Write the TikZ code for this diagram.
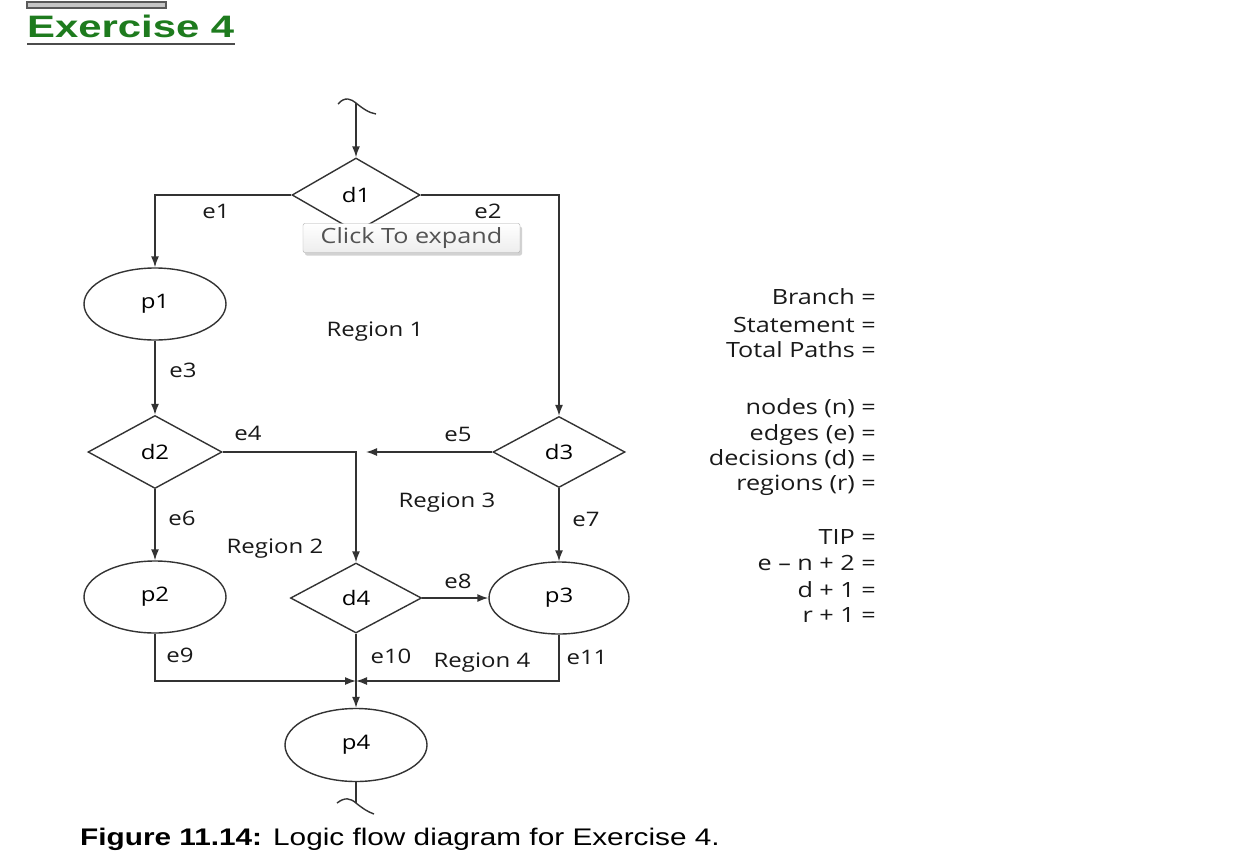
\documentclass[tikz,border=0pt]{standalone}
\usepackage{fontspec}
\usetikzlibrary{shapes.geometric,arrows.meta,shadows}
\setmainfont{Liberation Sans}
\newfontfamily\labfont[FakeStretch=1.2]{Open Sans}
\newfontfamily\titlefont[FakeStretch=1.35]{Liberation Sans}
\newfontfamily\capfont[FakeStretch=1.24]{Liberation Sans}
\newcommand\lab{\labfont\fontsize{20}{24}\selectfont}
\newcommand\sidef{\labfont\fontsize{21}{25}\selectfont}
\newcommand\tipf{\labfont\fontsize{21}{25}\selectfont}
\definecolor{ln}{HTML}{333333}
\definecolor{ttl}{HTML}{1E7B1E}
\begin{document}
\begin{tikzpicture}[x=1pt,y=-1pt,
  line/.style={draw=ln, line width=1.4pt},
  arr/.style={line, -{Latex[length=11pt,width=8pt]}},
  dec/.style={diamond, draw=ln, line width=1.4pt, inner sep=0pt, font=\lab},
  proc/.style={ellipse, draw=ln, line width=1.4pt, inner sep=0pt, minimum width=142pt, minimum height=72pt, font=\lab},
  lbl/.style={font=\lab, text=black!90, inner sep=0pt},
  side/.style={font=\sidef, anchor=base east, inner sep=0pt, text=black!90}]
\path[use as bounding box, fill=white] (0,0) rectangle (1252,862);

% title
\draw[draw=gray!70!black, fill=gray!45, line width=1.2pt] (27,2) rectangle (166,8);
\node[anchor=base west, inner sep=0pt, font=\titlefont\bfseries\fontsize{31}{36}\selectfont, text=ttl] (title) at (27,37) {Exercise 4};
\draw[draw=gray!60!black, line width=2pt] (27,44) -- (235,44);

% nodes
\node[dec, minimum width=128pt, minimum height=74pt] (d1) at (356,195) {d1};
\node[proc] (p1) at (155,304) {p1};
\node[dec, minimum width=134pt, minimum height=73pt] (d2) at (155,452) {d2};
\node[dec, minimum width=132pt, minimum height=71pt] (d3) at (559,452) {d3};
\node[proc] (p2) at (155,597) {p2};
\node[dec, minimum width=131pt, minimum height=70pt] (d4) at (356,598) {d4};
\node[proc, minimum width=140pt] (p3) at (559,598) {p3};
\node[proc, minimum height=73pt] (p4) at (356,745) {p4};

\coordinate (top) at (356,103);
\coordinate (e5end) at (366,452);
\coordinate (join) at (356,681);
\coordinate (bot) at (356,803);

% connectors
\draw[arr] (top) -- (d1.north);
\draw[line] (338,104) .. controls (345,96) and (351,99) .. (356,103) .. controls (362,108) and (369,113) .. (376,114);
\draw[arr] (d1.west) -| (p1.north);
\draw[arr] (d1.east) -| (d3.north);
\draw[arr] (p1.south) -- (d2.north);
\draw[arr] (d2.east) -| (d4.north);
\draw[arr] (d3.west) -- (e5end);
\draw[arr] (d2.south) -- (p2.north);
\draw[arr] (d3.south) -- (p3.north);
\draw[arr] (d4.east) -- (p3.west);
\draw[arr] (p2.south) |- (join);
\draw[arr] (p3.south) |- (join);
\draw[arr] (d4.south) -- (p4.north);
\draw[line] (p4.south) -- (bot);
\draw[line] (337,803) .. controls (345,797) and (350,798) .. (356,803) .. controls (362,808) and (368,812) .. (374,814);

% edge labels
\node[lbl] (le1) at (216,211) {e1};
\node[lbl] (le2) at (488,211) {e2};
\node[lbl] (le3) at (183,370) {e3};
\node[lbl] (le4) at (248,433) {e4};
\node[lbl] (le5) at (458,434) {e5};
\node[lbl] (le6) at (182,518) {e6};
\node[lbl] (le7) at (586,519) {e7};
\node[lbl] (le8) at (458,581) {e8};
\node[lbl] (le9) at (180,655) {e9};
\node[lbl] (le10) at (391,656) {e10};
\node[lbl] (le11) at (587,657) {e11};

% regions
\node[lbl] (r1) at (375,332) {Region 1};
\node[lbl] (r2) at (275,549) {Region 2};
\node[lbl] (r3) at (447,503) {Region 3};
\node[lbl] (r4) at (482,663) {Region 4};

% tooltip
\node[draw=gray!65, rounded corners=2pt, top color=white, bottom color=gray!14,
      drop shadow={shadow xshift=2pt, shadow yshift=-3pt, opacity=0.35},
      minimum width=217pt, minimum height=29pt, inner sep=0pt, font=\tipf, text=gray!65!black] (tip) at (411.5,238) {Click To expand};

% side column
\node[side] (s1) at (876,304) {Branch =};
\node[side] (s2) at (876,332) {Statement =};
\node[side] (s3) at (876,357) {Total Paths =};
\node[side] (s4) at (876,414) {nodes (n) =};
\node[side] (s5) at (876,440) {edges (e) =};
\node[side] (s6) at (876,465) {decisions (d) =};
\node[side] (s7) at (876,490) {regions (r) =};
\node[side] (s8) at (876,544) {TIP =};
\node[side] (s9) at (876,570) {e – n + 2 =};
\node[side] (s10) at (876,597) {d + 1 =};
\node[side] (s11) at (876,622) {r + 1 =};

% caption
\node[anchor=base west, inner sep=0pt, font=\capfont\fontsize{24}{28}\selectfont] (cap) at (80,845) {\textbf{Figure 11.14:} Logic flow diagram for Exercise 4.};
\end{tikzpicture}
\end{document}
